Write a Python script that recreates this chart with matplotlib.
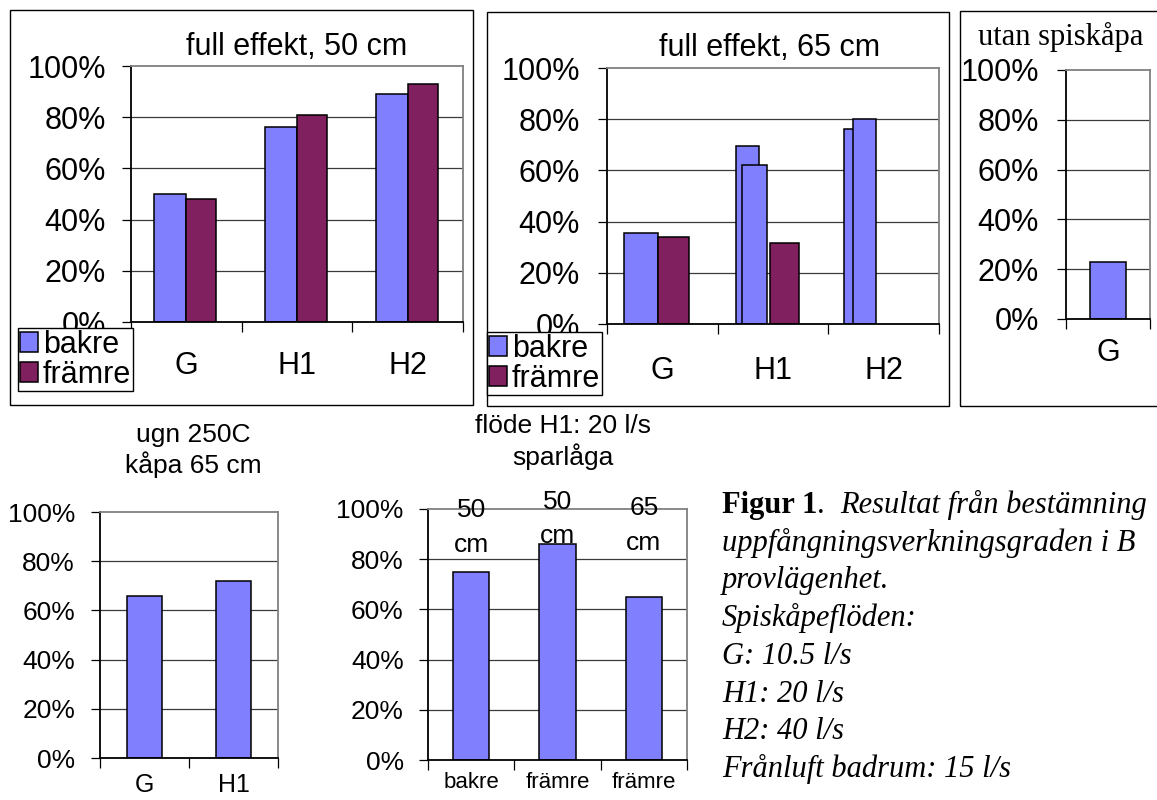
import numpy as np
import matplotlib

matplotlib.use("Agg")
import matplotlib.pyplot as plt
from matplotlib.patches import Patch, Rectangle
from matplotlib.ticker import PercentFormatter

plt.rcParams["font.family"] = ["Liberation Sans", "DejaVu Sans"]

# --- data (percent) ---
cats_top = ["G", "H1", "H2"]
bakre_50 = [50, 76, 89]
framre_50 = [48, 81, 93]

bakre_65 = [35.5, 69.5, 76]
bakre_65_extra = [np.nan, 62, 80]
framre_65 = [34, 31.5, np.nan]

cats_utan = ["G"]
bakre_utan = [23]

cats_ugn = ["G", "H1"]
bakre_ugn = [66, 72]

cats_spar = ["bakre", "främre", "främre"]
spar_values = [75, 86, 65]
spar_notes = ["50\ncm", "50\ncm", "65\ncm"]

caption = [
    "uppfångningsverkningsgraden i B",
    "provlägenhet.",
    "Spiskåpeflöden:",
    "G: 10.5 l/s",
    "H1: 20 l/s",
    "H2: 40 l/s",
    "Frånluft badrum: 15 l/s",
]

BLUE = "#8080ff"
PLUM = "#80205f"
W, H = 1157, 800

fig = plt.figure(figsize=(W / 100, H / 100), dpi=100)


def add_ax(l, t, r, b):
    return fig.add_axes([l / W, 1 - b / H, (r - l) / W, (b - t) / H])


def box(l, t, r, b):
    fig.add_artist(Rectangle((l / W, 1 - b / H), (r - l) / W, (b - t) / H,
                             transform=fig.transFigure, fill=False,
                             ec="black", lw=1.0, zorder=0))


def ftext(x, y, s, **kw):
    return fig.text(x / W, 1 - y / H, s, **kw)


def style(ax, labels, fs, ypad, xfs, xpad):
    n = len(labels)
    ax.set_xlim(0, n)
    ax.set_ylim(0, 100)
    ax.set_yticks(np.arange(0, 101, 20))
    ax.yaxis.set_major_formatter(PercentFormatter(100, decimals=0))
    ax.tick_params(axis="y", direction="out", length=6.5, width=0.9,
                   pad=ypad, labelsize=fs)
    ax.set_xticks(np.arange(n) + 0.5)
    ax.set_xticklabels(labels, fontsize=xfs)
    ax.set_xticks(np.arange(n + 1), minor=True)
    ax.tick_params(axis="x", which="major", length=0, pad=xpad)
    ax.tick_params(axis="x", which="minor", direction="out", length=7, width=0.9)
    for v in (20, 40, 60, 80):
        ax.axhline(v, color="#3a3a3a", lw=0.9, zorder=0.5)
    for s in ("top", "right"):
        ax.spines[s].set_color("#808080")
        ax.spines[s].set_linewidth(1.3)
    for s in ("left", "bottom"):
        ax.spines[s].set_color("black")
        ax.spines[s].set_linewidth(1.3)
    ax.spines["bottom"].set_zorder(3)


bar_kw = dict(edgecolor="black", linewidth=1.1, zorder=2, align="center")

# --- panel 1: full effekt, 50 cm ---
box(10, 10, 473, 405)
ax1 = add_ax(131, 66, 463, 322)
style(ax1, cats_top, 22, 11.5, 22, 21)
x = np.arange(len(cats_top)) + 0.5
ax1.bar(x - 0.145, bakre_50, width=0.29, color=BLUE, **bar_kw)
ax1.bar(x + 0.135, framre_50, width=0.27, color=PLUM, **bar_kw)
ftext(297, 55, "full effekt, 50 cm", ha="center", va="baseline", fontsize=22)

handles = [Patch(facecolor=BLUE, edgecolor="black", lw=1.1),
           Patch(facecolor=PLUM, edgecolor="black", lw=1.1)]
leg_kw = dict(loc="upper left", fontsize=22, frameon=True, fancybox=False,
              framealpha=1, edgecolor="black", borderpad=0.05,
              borderaxespad=0, handlelength=0.62, handleheight=0.65,
              handletextpad=0.15, labelspacing=0.0)
leg1 = fig.legend(handles, ["bakre", "främre"],
                  bbox_to_anchor=(18 / W, 1 - 328 / H), **leg_kw)
leg1.get_frame().set_linewidth(1.0)

# --- panel 2: full effekt, 65 cm ---
box(487, 12, 949, 406)
ax2 = add_ax(607, 68, 939, 324)
style(ax2, cats_top, 22, 13, 22, 23)
ax2.bar(x + np.array([-0.195, -0.23, -0.26]), bakre_65,
        width=[0.31, 0.21, 0.20], color=BLUE, **bar_kw)
ax2.bar(x + np.array([0.0, -0.167, -0.172]), bakre_65_extra,
        width=[0.2, 0.23, 0.21], color=BLUE, **bar_kw)
ax2.bar(x + np.array([0.10, 0.104, 0.0]), framre_65,
        width=[0.28, 0.26, 0.2], color=PLUM, **bar_kw)
ftext(770, 56, "full effekt, 65 cm", ha="center", va="baseline", fontsize=22)
leg2 = fig.legend(handles, ["bakre", "främre"],
                  bbox_to_anchor=(487 / W, 1 - 332 / H), **leg_kw)
leg2.get_frame().set_linewidth(1.0)

# --- panel 3: utan spiskåpa ---
box(960, 11, 1175, 406)
ax3 = add_ax(1066, 70, 1150, 319)
style(ax3, cats_utan, 22, 13, 22, 14)
ax3.bar(np.arange(1) + 0.5, bakre_utan, width=0.42, color=BLUE, **bar_kw)
ftext(978, 45, "utan spiskåpa", ha="left", va="baseline", fontsize=22,
      family="Liberation Serif")

# --- panel 4: ugn 250C ---
ax4 = add_ax(100, 512, 278, 758)
style(ax4, cats_ugn, 19, 11.5, 18, 11)
ax4.bar(np.arange(2) + 0.5, bakre_ugn, width=0.4, color=BLUE, **bar_kw)
ftext(193, 442, "ugn 250C", ha="center", va="baseline", fontsize=19)
ftext(193, 473, "kåpa 65 cm", ha="center", va="baseline", fontsize=19)

# --- panel 5: flöde H1 sparlåga ---
ax5 = add_ax(428, 509, 687, 760)
style(ax5, cats_spar, 19, 11, 16, 9)
xs = np.arange(3) + 0.5
ax5.bar(xs, spar_values, width=0.42, color=BLUE, **bar_kw)
for xi, note, yy in zip(xs, spar_notes, [92.6, 96.0, 93.4]):
    ax5.text(xi, yy, note, ha="center", va="center", fontsize=19,
             linespacing=1.55, zorder=4)
ftext(563, 433, "flöde H1: 20 l/s", ha="center", va="baseline", fontsize=19)
ftext(563, 465, "sparlåga", ha="center", va="baseline", fontsize=19)

# --- caption ---
fig.canvas.draw()
rend = fig.canvas.get_renderer()
t1 = ftext(722, 513, "Figur 1", ha="left", va="baseline", fontsize=22,
           family="Liberation Serif", weight="bold")
bb = t1.get_window_extent(rend)
fig.text(bb.x1 / W, 1 - 513 / H, ".", ha="left", va="baseline",
         fontsize=22, family="Liberation Serif")
ftext(840, 513, "Resultat från bestämning", ha="left", va="baseline",
      fontsize=22, family="Liberation Serif", style="italic")
for i, line in enumerate(caption):
    ftext(722, 513 + (i + 1) * 37.7, line, ha="left", va="baseline",
          fontsize=22, family="Liberation Serif", style="italic")

fig.savefig("out.png", dpi=100)
